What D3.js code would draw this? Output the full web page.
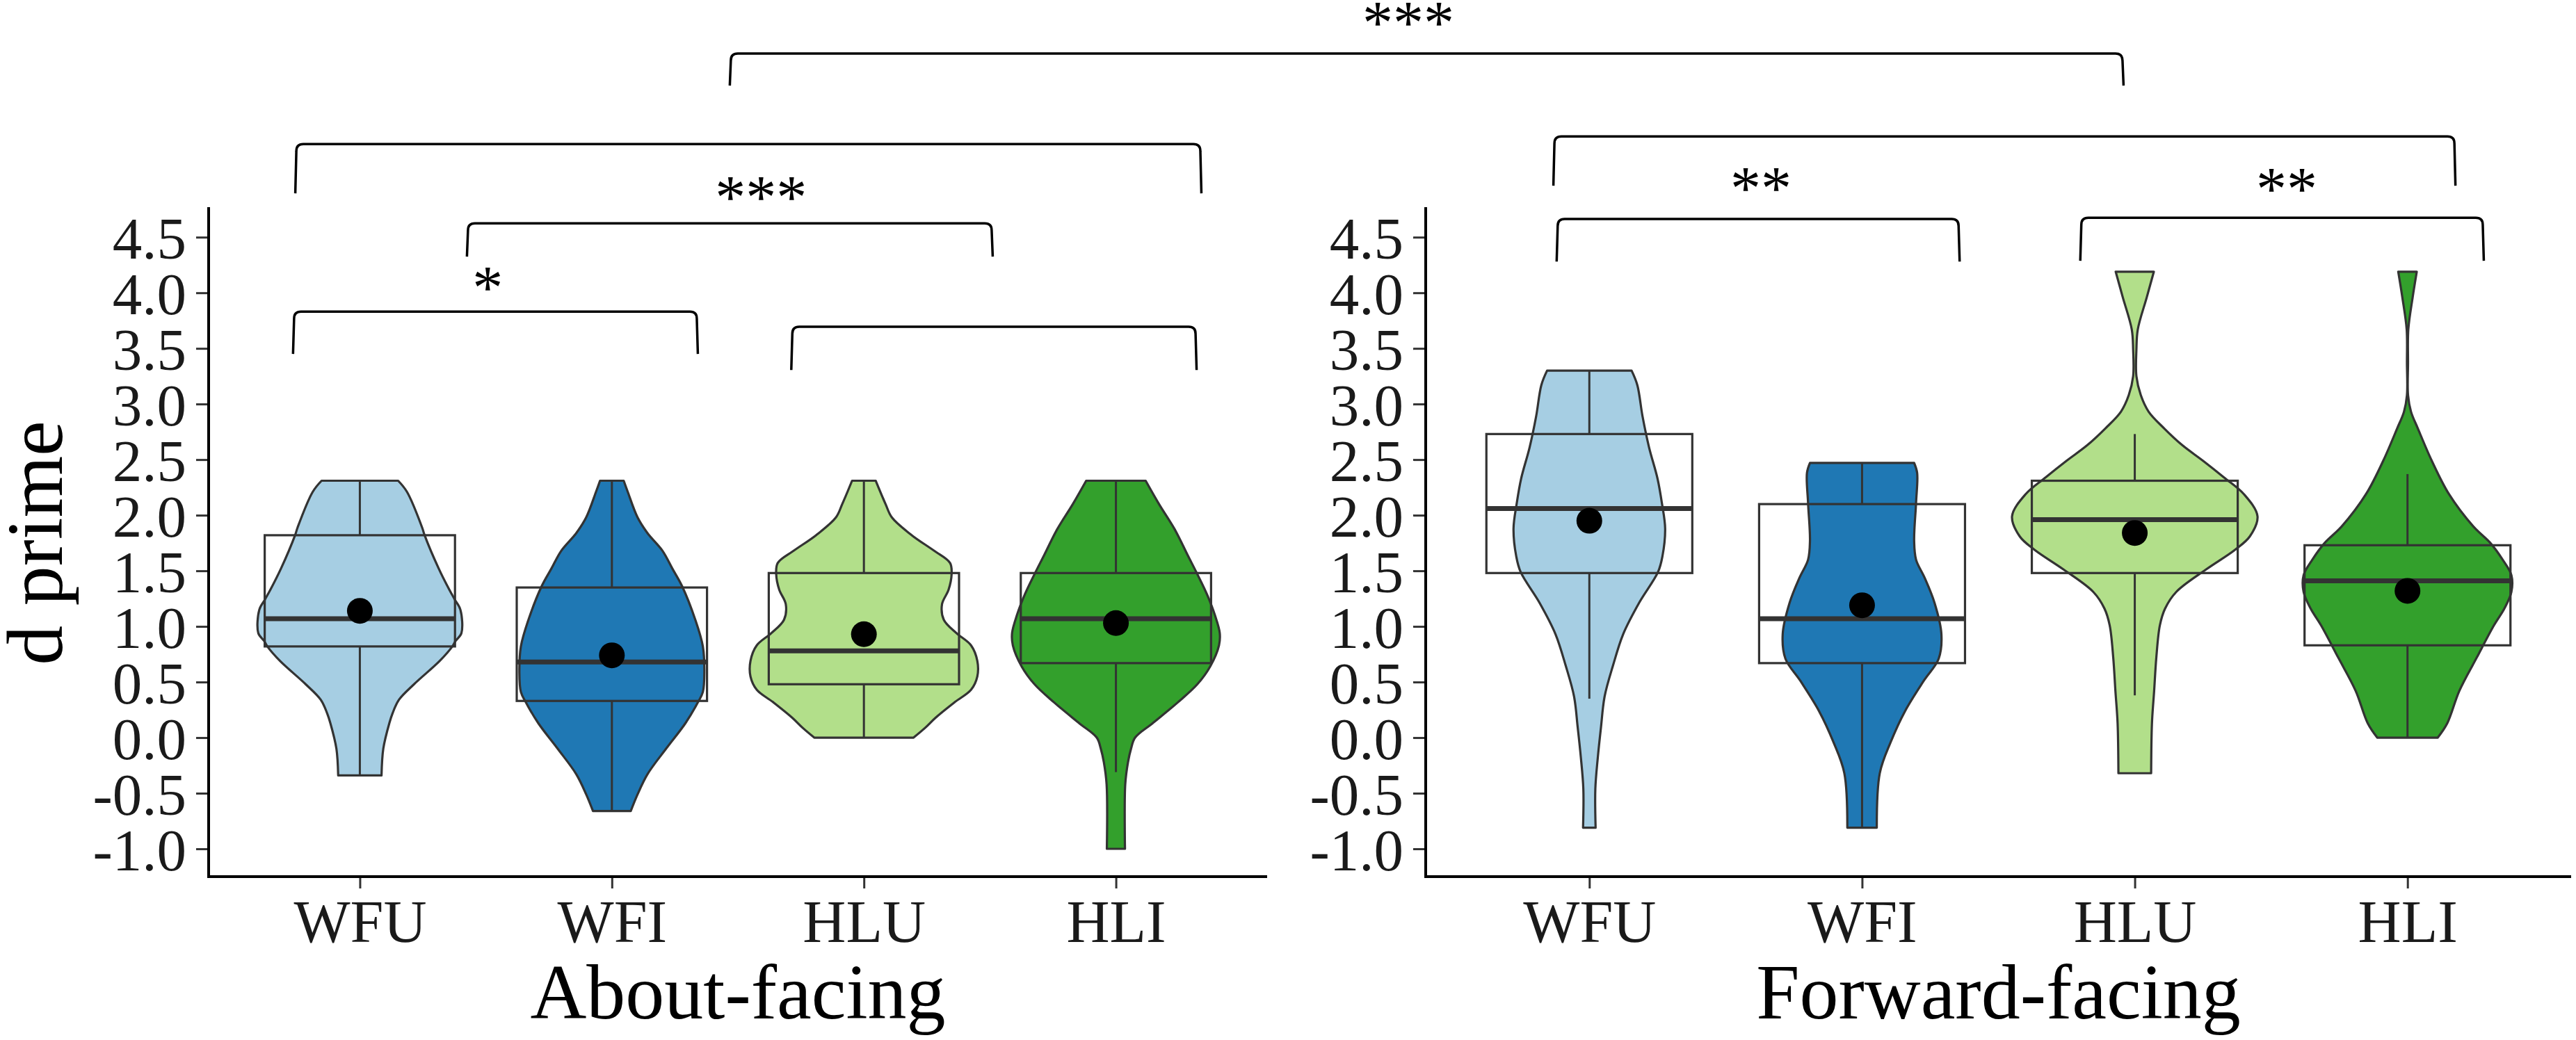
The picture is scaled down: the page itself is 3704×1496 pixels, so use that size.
<!DOCTYPE html>
<html><head><meta charset="utf-8">
<script src="https://cdn.jsdelivr.net/npm/d3@7"></script>
<style>html,body{margin:0;padding:0;background:#fff;} svg{display:block;}</style>
</head><body>
<svg id="chart" width="3704" height="1496"></svg>
<script>
// ---------------- data ----------------
const categories = ["WFU", "WFI", "HLU", "HLI"];
const panelTitles = ["About-facing", "Forward-facing"];
const yAxisTitle = "d prime";
const yTickValues = [-1.0, -0.5, 0.0, 0.5, 1.0, 1.5, 2.0, 2.5, 3.0, 3.5, 4.0, 4.5];
const yTickLabels = ["-1.0", "-0.5", "0.0", "0.5", "1.0", "1.5", "2.0", "2.5", "3.0", "3.5", "4.0", "4.5"];
const fillColors = ["#A6CEE3", "#1F78B4", "#B2DF8A", "#33A02C"];

// violin outlines: [d prime, half width as fraction of the category step]
const aboutWFU = [[2.31,.152],[2.21,.187],[1.89,.247],[1.82,.257],[1.52,.313],[1.33,.355],[1.24,.377],[1.15,.399],[0.94,.403],[0.87,.380],[0.82,.367],[0.69,.317],[0.48,.215],[0.34,.155],[0.22,.130],[0.13,.117],[-0.10,.093],[-0.34,.086]];
const aboutWFI = [[2.31,.047],[2.21,.063],[1.98,.102],[1.84,.141],[1.68,.201],[1.52,.240],[1.36,.279],[1.06,.331],[0.82,.361],[0.59,.367],[0.41,.361],[0.32,.342],[0.13,.292],[-0.10,.215],[-0.33,.141],[-0.51,.102],[-0.66,.075]];
const aboutHLU = [[2.31,.047],[2.10,.086],[1.98,.111],[1.82,.190],[1.68,.279],[1.57,.342],[1.47,.348],[1.33,.336],[1.20,.310],[1.06,.317],[0.94,.367],[0.83,.425],[0.69,.450],[0.55,.450],[0.43,.425],[0.32,.361],[0.18,.285],[0.09,.244],[0.00,.197]];
const aboutHLI = [[2.31,.118],[2.10,.171],[1.87,.234],[1.64,.285],[1.47,.323],[1.29,.361],[1.10,.393],[0.94,.412],[0.83,.409],[0.64,.374],[0.48,.323],[0.32,.247],[0.13,.146],[0.00,.076],[-0.10,.060],[-0.22,.048],[-0.42,.037],[-1.00,.036]];
const forwardWFU = [[3.30,.155],[3.17,.176],[2.89,.195],[2.61,.219],[2.33,.250],[2.11,.266],[1.88,.278],[1.63,.268],[1.49,.252],[1.21,.182],[0.93,.124],[0.65,.087],[0.37,.056],[0.10,.043],[-0.18,.031],[-0.46,.022],[-0.81,.023]];
const forwardWFI = [[2.47,.191],[2.38,.202],[2.11,.198],[1.77,.191],[1.60,.198],[1.44,.229],[1.21,.266],[0.93,.291],[0.71,.281],[0.51,.226],[0.24,.158],[-0.04,.105],[-0.32,.065],[-0.81,.054]];
const forwardHLU = [[4.19,.070],[3.96,.044],[3.67,.011],[3.49,.006],[3.25,.006],[3.08,.022],[2.93,.051],[2.78,.108],[2.63,.174],[2.49,.250],[2.34,.327],[2.19,.400],[1.99,.450],[1.81,.422],[1.69,.368],[1.51,.260],[1.31,.152],[1.16,.111],[1.01,.092],[0.72,.079],[0.42,.071],[0.13,.063],[-0.32,.060]];
const forwardHLI = [[4.19,.034],[3.96,.019],[3.67,.003],[3.37,.002],[3.08,.002],[2.93,.013],[2.78,.038],[2.49,.089],[2.19,.152],[1.90,.241],[1.75,.304],[1.60,.349],[1.46,.381],[1.31,.381],[1.16,.355],[1.01,.317],[0.72,.254],[0.42,.190],[0.13,.146],[0.00,.111]];

// box stats: [lower whisker, Q1, median, Q3, upper whisker, mean]
const aboutBoxes = [[-0.34,0.82,1.07,1.82,2.31,1.14],[-0.66,0.33,0.68,1.35,2.31,0.74],[0.00,0.48,0.78,1.48,2.31,0.93],[-0.31,0.67,1.07,1.48,2.31,1.03]];
const forwardBoxes = [[0.35,1.48,2.06,2.73,3.30,1.95],[-0.81,0.67,1.07,2.10,2.47,1.19],[0.38,1.48,1.96,2.31,2.73,1.84],[0.00,0.83,1.41,1.73,2.37,1.32]];

// significance brackets: ends as [panel, category position], heights in d prime units
const bracketFrom   = [[0,1.472],[0,-0.252],[0,0.429],[0,-0.261],[0,1.716],[1,-0.128],[1,-0.116],[1,1.804]];
const bracketTo     = [[1,1.955],[0,3.335],[0,2.507],[0,1.337],[0,3.316],[1,3.172],[1,1.354],[1,3.276]];
const bracketTop    = [6.151, 5.338, 4.625, 3.831, 3.694, 5.406, 4.663, 4.675];
const bracketFoot   = [5.863, 4.894, 4.325, 3.450, 3.306, 4.963, 4.281, 4.288];
const sigLabels     = ["***", "***", "*", "**", "**"];
const sigLabelPos   = [[0,4.160],[0,1.592],[0,0.507],[1,0.629],[1,2.557]];
const sigLabelY     = [6.244, 4.675, 3.862, 4.756, 4.750];

// ---------------- drawing ----------------
const svg = d3.select("#chart");
svg.append("rect").attr("width", 3704).attr("height", 1496).attr("fill", "#fff");
const FONT = "'Liberation Serif','Times New Roman',Times,serif";
const outline = "#333333";

const y = d3.scaleLinear().domain([-1.25, 4.77]).range([1261, 298]);

const panelRanges = [[300, 1822], [2050, 3697]];
const violins = [[aboutWFU, aboutWFI, aboutHLU, aboutHLI], [forwardWFU, forwardWFI, forwardHLU, forwardHLI]];
const boxes = [aboutBoxes, forwardBoxes];

const xScales = panelRanges.map(r => d3.scalePoint().domain(categories).range(r).padding(0.6));
const xPos = xScales.map(xs => d3.scaleLinear().domain([0, categories.length - 1])
  .range([xs(categories[0]), xs(categories[categories.length - 1])]));

const curve = d3.line().curve(d3.curveCatmullRom.alpha(0.5));

panelRanges.forEach((range, p) => {
  const g = svg.append("g");
  const xs = xScales[p], xl = xPos[p];

  categories.forEach((c, i) => {
    const prof = violins[p][i];
    const right = prof.map(d => [xl(i + d[1]), y(d[0])]);
    const left = prof.map(d => [xl(i - d[1]), y(d[0])]).reverse();
    const path = curve(right) + curve(left).replace(/^M/, "L") + "Z";
    g.append("path").attr("d", path).attr("fill", fillColors[i])
      .attr("stroke", outline).attr("stroke-width", 3.2).attr("stroke-linejoin", "round");

    const b = boxes[p][i];
    const bw = 0.755 / 2;
    // whiskers
    g.append("line").attr("x1", xl(i)).attr("x2", xl(i)).attr("y1", y(b[3])).attr("y2", y(b[4]))
      .attr("stroke", outline).attr("stroke-width", 3);
    g.append("line").attr("x1", xl(i)).attr("x2", xl(i)).attr("y1", y(b[1])).attr("y2", y(b[0]))
      .attr("stroke", outline).attr("stroke-width", 3);
    // box
    g.append("rect").attr("x", xl(i - bw)).attr("width", xl(i + bw) - xl(i - bw))
      .attr("y", y(b[3])).attr("height", y(b[1]) - y(b[3]))
      .attr("fill", "none").attr("stroke", outline).attr("stroke-width", 3.2);
    // median
    g.append("line").attr("x1", xl(i - bw)).attr("x2", xl(i + bw)).attr("y1", y(b[2])).attr("y2", y(b[2]))
      .attr("stroke", outline).attr("stroke-width", 7);
    // mean
    g.append("circle").attr("cx", xl(i)).attr("cy", y(b[5])).attr("r", 18.5).attr("fill", "#000");
  });

  // y axis
  const yAxis = d3.axisLeft(y).tickValues(yTickValues).tickSize(18).tickPadding(14)
    .tickFormat((d, k) => yTickLabels[k]);
  const ya = svg.append("g").attr("transform", `translate(${range[0]},0)`).call(yAxis);
  ya.select(".domain").remove();
  ya.selectAll(".tick line").attr("stroke", outline).attr("stroke-width", 3);
  ya.selectAll(".tick text").attr("font-family", FONT).attr("font-size", 85).attr("fill", "#1a1a1a")
    .attr("dy", "0.36em");
  svg.append("line").attr("x1", range[0]).attr("x2", range[0]).attr("y1", y.range()[1]).attr("y2", y.range()[0] + 2)
    .attr("stroke", "#000").attr("stroke-width", 4);

  // x axis
  const xAxis = d3.axisBottom(xs).tickSize(17).tickPadding(22);
  const xa = svg.append("g").attr("transform", `translate(0,${y.range()[0]})`).call(xAxis);
  xa.select(".domain").remove();
  xa.selectAll(".tick line").attr("stroke", outline).attr("stroke-width", 3);
  xa.selectAll(".tick text").attr("font-family", FONT).attr("font-size", 86).attr("fill", "#1a1a1a")
    .attr("dy", null).attr("y", 94);
  svg.append("line").attr("x1", range[0] - 2).attr("x2", range[1]).attr("y1", y.range()[0]).attr("y2", y.range()[0])
    .attr("stroke", "#000").attr("stroke-width", 4);

  // x title
  svg.append("text").attr("x", (range[0] + range[1]) / 2).attr("y", 1465)
    .attr("text-anchor", "middle").attr("font-family", FONT).attr("font-size", 112).attr("fill", "#000")
    .text(panelTitles[p]);
});

// y title
svg.append("text").attr("transform", "translate(89,781) rotate(-90)")
  .attr("text-anchor", "middle").attr("font-family", FONT).attr("font-size", 114).attr("fill", "#000")
  .text(yAxisTitle);

// brackets
const bx = d => xPos[d[0]](d[1]);
bracketFrom.forEach((f, k) => {
  const x1 = bx(f), x2 = bx(bracketTo[k]);
  const yt = y(bracketTop[k]), yb = y(bracketFoot[k]);
  const r = 10;
  const path = `M${x1 - 1.5},${yb} L${x1},${yt + r} Q${x1},${yt} ${x1 + r},${yt} L${x2 - r},${yt} Q${x2},${yt} ${x2},${yt + r} L${x2 + 1.5},${yb}`;
  svg.append("path").attr("d", path).attr("fill", "none").attr("stroke", "#000").attr("stroke-width", 3.5);
});
sigLabels.forEach((s, k) => {
  svg.append("text").attr("x", bx(sigLabelPos[k])).attr("y", y(sigLabelY[k]))
    .attr("text-anchor", "middle").attr("font-family", FONT).attr("font-size", 88).attr("fill", "#000")
    .text(s);
});
</script>
</body></html>
